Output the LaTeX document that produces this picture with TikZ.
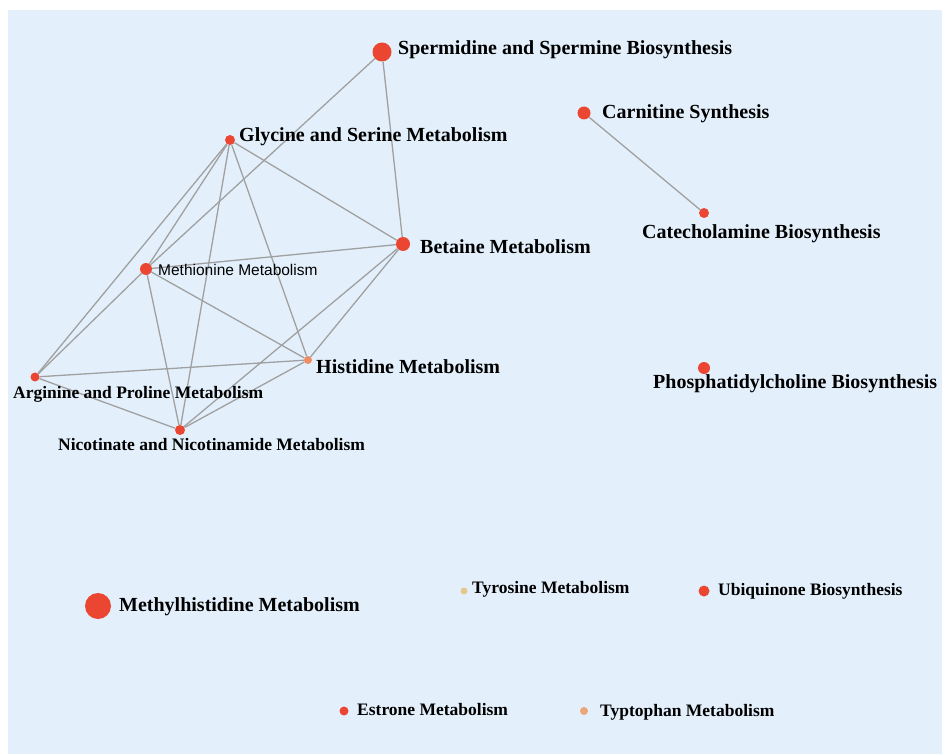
\documentclass[tikz,border=0pt]{standalone}
\usepackage{fontspec}
\setmainfont{Liberation Serif}
\newfontfamily\lsans{Liberation Sans}
\definecolor{bgblue}{RGB}{227,240,252}
\definecolor{dotred}{RGB}{234,70,50}
\definecolor{dotsalmon}{RGB}{240,140,100}
\definecolor{dottan}{RGB}{230,200,140}
\definecolor{dotpeach}{RGB}{235,165,120}
\definecolor{edgegray}{RGB}{160,160,160}
\tikzset{
  dot/.style={circle,fill=#1,draw=none,inner sep=0pt},
  dot/.default=dotred,
  biglab/.style={anchor=base west,inner sep=0pt,font=\fontsize{20}{24}\selectfont\bfseries},
  smalllab/.style={anchor=base west,inner sep=0pt,font=\fontsize{17.5}{21}\selectfont\bfseries},
  sanslab/.style={anchor=base west,inner sep=0pt,font=\fontsize{15.5}{18}\selectfont\lsans},
  link/.style={draw=edgegray,line width=1.3pt}
}
\begin{document}
\begin{tikzpicture}[x=1pt,y=-1pt]
\useasboundingbox (0,0) rectangle (942,754);
\fill[white] (0,0) rectangle (942,754);
\fill[bgblue] (8,10) rectangle (942,754);
% dots
\node[dot,minimum size=19pt] (S) at (382,52) {};
\node[dot,minimum size=13pt] (C) at (584,113) {};
\node[dot,minimum size=10pt] (G) at (230,140) {};
\node[dot,minimum size=14pt] (B) at (403,244) {};
\node[dot,minimum size=12pt] (M) at (146,269) {};
\node[dot=dotsalmon,minimum size=8pt] (H) at (308,360) {};
\node[dot,minimum size=9pt] (A) at (35,377) {};
\node[dot,minimum size=10pt] (N) at (180,430) {};
\node[dot,minimum size=10pt] (Ca) at (704,213) {};
\node[dot,minimum size=12pt] (P) at (704,368) {};
\node[dot,minimum size=26pt] (Mh) at (98,606) {};
\node[dot=dottan,minimum size=7pt] (T) at (464,591) {};
\node[dot,minimum size=11pt] (U) at (704,591) {};
\node[dot,minimum size=9pt] (E) at (344,711) {};
\node[dot=dotpeach,minimum size=8pt] (Ty) at (584,711) {};
% edges
\begin{scope}[on background layer/.style={}]
\draw[link] (S) -- (M);
\draw[link] (S) -- (B);
\draw[link] (G) -- (A);
\draw[link] (G) -- (M);
\draw[link] (G) -- (N);
\draw[link] (G) -- (H);
\draw[link] (G) -- (B);
\draw[link] (M) -- (B);
\draw[link] (M) -- (A);
\draw[link] (M) -- (N);
\draw[link] (M) -- (H);
\draw[link] (A) -- (H);
\draw[link] (A) -- (N);
\draw[link] (N) -- (H);
\draw[link] (N) -- (B);
\draw[link] (H) -- (B);
\draw[link] (C) -- (Ca);
\end{scope}
% labels
\node[biglab] (lS) at (398,55) {Spermidine and Spermine Biosynthesis};
\node[biglab] (lC) at (602,119) {Carnitine Synthesis};
\node[biglab] (lG) at (239,142) {Glycine and Serine Metabolism};
\node[biglab] (lB) at (420,253) {Betaine Metabolism};
\node[sanslab] (lM) at (158,275) {Methionine Metabolism};
\node[biglab] (lH) at (316,373) {Histidine Metabolism};
\node[smalllab] (lA) at (13,398) {Arginine and Proline Metabolism};
\node[smalllab] (lN) at (58,450) {Nicotinate and Nicotinamide Metabolism};
\node[biglab] (lCa) at (642,238) {Catecholamine Biosynthesis};
\node[biglab] (lP) at (653,388) {Phosphatidylcholine Biosynthesis};
\node[biglab] (lMh) at (119,611) {Methylhistidine Metabolism};
\node[smalllab] (lT) at (472,593) {Tyrosine Metabolism};
\node[smalllab] (lU) at (718,595) {Ubiquinone Biosynthesis};
\node[smalllab] (lE) at (357,715) {Estrone Metabolism};
\node[smalllab] (lTy) at (600,716) {Typtophan Metabolism};
\end{tikzpicture}
\end{document}
